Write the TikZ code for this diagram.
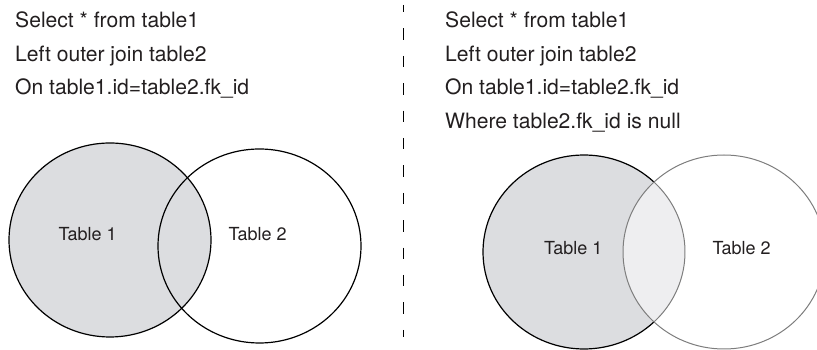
\documentclass[tikz,border=0pt]{standalone}
\usepackage{fontspec}
\setmainfont{TeX Gyre Heros}
\usetikzlibrary{calc}
\definecolor{ink}{RGB}{35,31,32}
\definecolor{tablegrey}{RGB}{220,221,224}
\definecolor{lensgrey}{RGB}{238,238,240}
\definecolor{rim}{RGB}{125,125,125}
\tikzset{
  query/.style={anchor=base west, inner sep=0pt, text=ink, font=\fontsize{21.1}{24}\selectfont},
  setlabel/.style={anchor=base west, inner sep=0pt, text=ink, font=\fontsize{18}{21}\selectfont},
  outline/.style={draw=black, line width=1.2pt},
  greyrim/.style={draw=rim, line width=1pt},
  divider/.style={draw=black, line width=1pt, dash pattern=on 11.5pt off 15.9pt, dash phase=4pt}
}
\begin{document}
\begin{tikzpicture}[x=1pt, y=1pt]
\useasboundingbox (0,0) rectangle (817,350);
\clip (0,0) rectangle (817,350);

% ---------- left join ----------
\node[query] (l1) at (15,322) {Select * from table1};
\node[query] (l2) at (15,288.5) {Left outer join table2};
\node[query] (l3) at (15,255) {On table1.id=table2.fk\_id};

\fill[tablegrey] (110,110) ellipse [x radius=101, y radius=97];
\path[outline] (110,110) ellipse [x radius=101, y radius=97];
\path[outline] (259.5,104) ellipse [x radius=101.5, y radius=97];
\node[setlabel] (a1) at (58.3,109.3) {Table 1};
\node[setlabel] (a2) at (228.3,109.3) {Table 2};

% ---------- divider ----------
\coordinate (top) at (403,345);
\coordinate (bottom) at (403,13);
\draw[divider] (top) -- (bottom);

% ---------- left join excluding matches ----------
\node[query] (r1) at (445,322) {Select * from table1};
\node[query] (r2) at (445,288.5) {Left outer join table2};
\node[query] (r3) at (445,255) {On table1.id=table2.fk\_id};
\node[query] (r4) at (445,221.5) {Where table2.fk\_id is null};

\coordinate (c1) at (584,98);
\coordinate (c2) at (724,98);
\fill[tablegrey] (c1) ellipse [x radius=101, y radius=97];
\begin{scope}
  \clip (c2) ellipse [x radius=101, y radius=97];
  \fill[lensgrey] (c1) ellipse [x radius=101, y radius=97];
\end{scope}
% outer arc of table 1 in black, inner arc in grey
\draw[outline] ($(c1)+(46.1:101 and 97)$) arc [start angle=46.1, end angle=313.9, x radius=101, y radius=97];
\draw[greyrim] ($(c1)+(-46.1:101 and 97)$) arc [start angle=-46.1, end angle=46.1, x radius=101, y radius=97];
\path[greyrim] (c2) ellipse [x radius=101, y radius=97];
\node[setlabel] (b1) at (544,95.7) {Table 1};
\node[setlabel] (b2) at (712.3,95.7) {Table 2};
\end{tikzpicture}
\end{document}
